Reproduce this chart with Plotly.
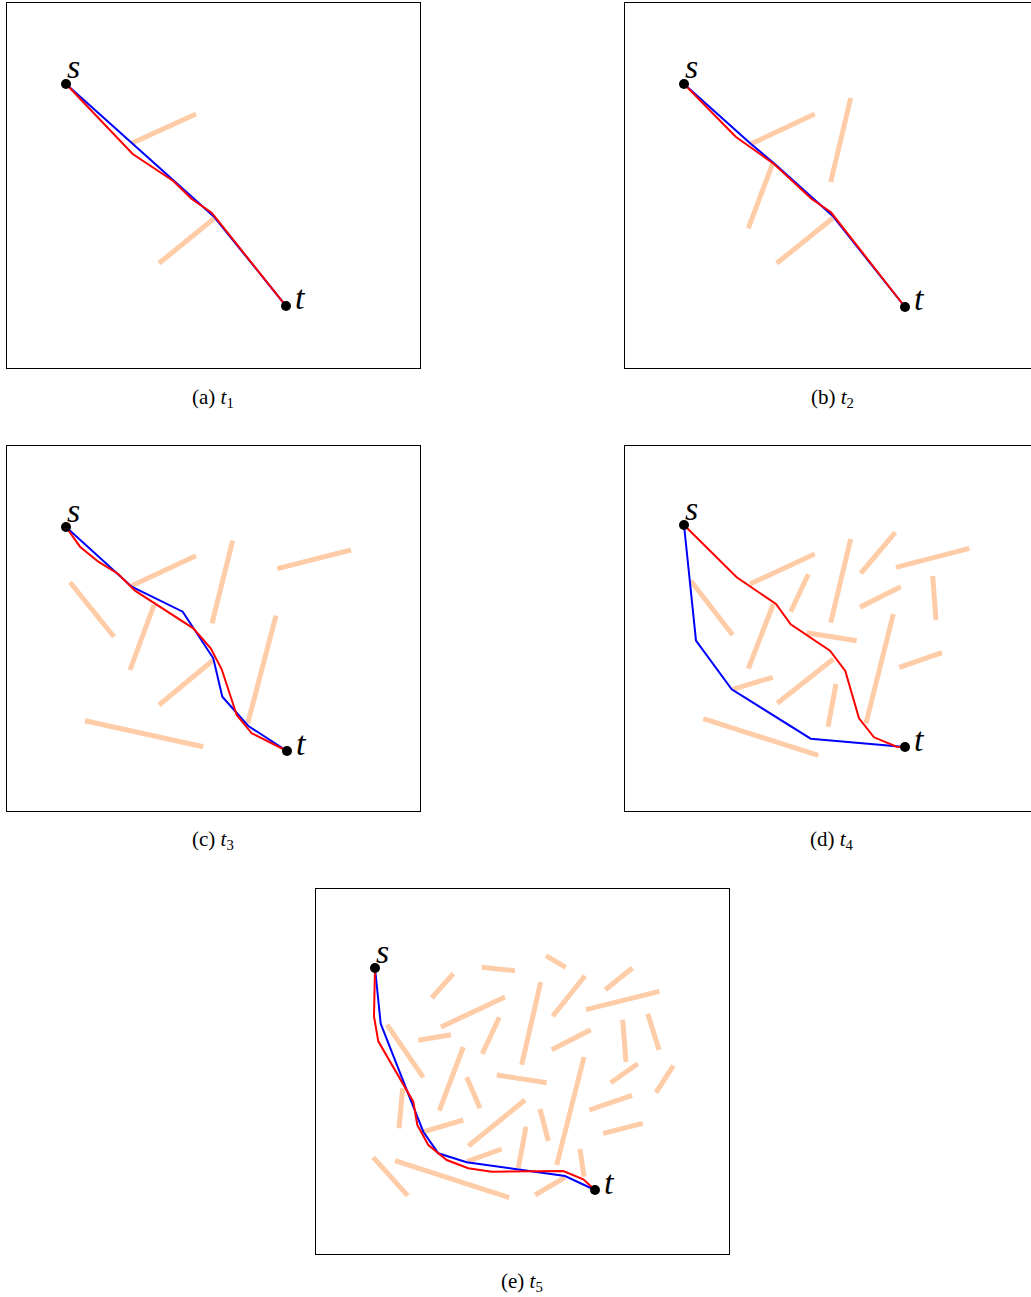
import plotly.graph_objects as go

# Canvas and panel geometry (pixel units)
W, H = 1031, 1297
PANEL_W, PANEL_H = 413, 365

# Panel boxes: (left, top, right, bottom) in canvas pixels
panel_boxes = {
    "a": (7, 3, 420, 368),
    "b": (625, 3, 1031, 368),
    "c": (7, 446, 420, 811),
    "d": (625, 446, 1031, 811),
    "e": (316, 889, 729, 1254),
}

# Captions: panel -> (label, subscript, center x, center y)
captions = {
    "a": ("(a)", "1", 213, 398),
    "b": ("(b)", "2", 832, 398),
    "c": ("(c)", "3", 213, 840),
    "d": ("(d)", "4", 832, 840),
    "e": ("(e)", "5", 522, 1282),
}

# Start / goal points (panel-local coordinates)
start_pts = {"a": (59, 81), "b": (59, 81), "c": (59, 81), "d": (59, 79), "e": (59, 79)}
goal_pts = {"a": (279, 303), "b": (280, 304), "c": (280, 305), "d": (280, 301), "e": (279, 301)}

# Obstacle segments (x0, y0, x1, y1), panel-local coordinates
obstacles_a = [
    (124.7, 140.3, 189, 111), (152, 260.3, 207.3, 215.3),
]
obstacles_b = [
    (126, 141, 189.7, 111), (151.7, 260.3, 207.7, 215.3),
    (123.3, 225.3, 147.7, 160.3), (205.7, 179, 225.7, 95),
]
obstacles_c = [
    (124.7, 139.7, 189, 109.7), (152, 259, 206.3, 214),
    (123, 224, 147, 159), (205, 177.3, 225.7, 94.7),
    (63, 136.3, 107, 190.7), (270.3, 122.7, 344, 104),
    (240.7, 277.3, 269, 169.7), (78, 274.7, 196.3, 300.7),
]
obstacles_d = [
    (125, 138, 189.7, 108), (152.3, 257.3, 208.3, 213),
    (123.3, 222.7, 148.3, 158), (205.7, 176.7, 225.7, 93),
    (65.7, 134.7, 107.7, 189), (271, 121.3, 344.3, 102.3),
    (241, 277.3, 268.3, 168), (78.3, 272.7, 193.3, 309.3),
    (165.7, 165.7, 183.3, 128.3), (235.7, 127.3, 270.3, 86.3),
    (235, 161.3, 275.7, 140.7), (307.7, 130, 311, 174),
    (181.7, 186.7, 231.7, 194.7), (274.3, 221.3, 317, 206.7),
    (107.7, 243.3, 147.7, 231.3), (203, 280.7, 211, 238),
]
obstacles_e = [
    (115.7, 109, 137.3, 84.7), (165.7, 78.3, 199, 81.7),
    (125, 138, 189, 108), (102.3, 151.3, 135, 145.7),
    (166.3, 164.7, 183.3, 128.3), (71, 135.7, 107.3, 188.3),
    (147.3, 158, 123.3, 221.7), (230, 66.7, 249.7, 78.3),
    (224.7, 93, 205.7, 175.7), (269, 86.7, 236.7, 127.3),
    (316.3, 79, 289.3, 100.7), (270, 120.7, 343.3, 102.3),
    (306.7, 130.7, 310, 173), (331.7, 124.7, 343, 160.7),
    (235.7, 160.7, 274.7, 140.7), (268, 168, 240.7, 276),
    (321.7, 174.7, 294.7, 193.7), (357.3, 176.7, 340, 203.7),
    (86.7, 199.3, 83, 239.3), (108, 242.7, 147.3, 231),
    (150.7, 188.3, 164, 219.3), (180.7, 186, 230.7, 193.7),
    (152.3, 257, 209, 211), (150.7, 272.7, 185.7, 260),
    (57.3, 268.3, 91.7, 306.7), (79, 271.7, 193.3, 308.7),
    (224, 220, 232.3, 252), (273.3, 221, 316, 206.3),
    (287.3, 244.3, 326.7, 234.3), (264, 260, 268, 287.7),
    (219, 306, 249, 288.3), (202.3, 279.3, 210, 237.7),
]

# Blue paths
blue_a_x = [59, 124.7, 207.3, 279]
blue_a_y = [81, 140.3, 214, 303]
blue_b_x = [59, 126, 149, 207.7, 280]
blue_b_y = [81, 141, 160.3, 213, 304]
blue_c_x = [59, 124.7, 175.7, 206.3, 215.3, 241.3, 280]
blue_c_y = [81, 140.7, 165.7, 212.3, 250.7, 280, 305]
blue_d_x = [59, 71, 106.7, 185.7, 280]
blue_d_y = [79, 194.7, 243.3, 292.7, 301]
blue_e_x = [59, 64.7, 97.3, 107.3, 122.3, 150.7, 249, 279]
blue_e_y = [79, 134.7, 217.7, 242.7, 264.3, 273.3, 287, 301]

# Red paths
red_a_x = [59, 125.7, 166.3, 184.7, 204.7, 279]
red_a_y = [81, 151, 178, 196, 209.7, 303]
red_b_x = [59, 110.7, 149, 186.7, 206, 280]
red_b_y = [81, 133.7, 161, 196, 209.3, 304]
red_c_x = [59, 73, 91.3, 111.3, 128, 186.3, 203.7, 214.7, 229.7, 244.7, 280]
red_c_y = [81, 100.7, 115.7, 128, 144.7, 182.3, 202.3, 223.3, 269, 287.3, 305]
red_d_x = [59, 111.7, 151, 165.7, 205, 220.3, 234, 249, 271.7, 280]
red_d_y = [79, 131.3, 158, 178.3, 204.7, 225, 272.3, 291.3, 300.7, 301]
red_e_x = [59, 58, 62.3, 79, 97.3, 101.3, 112.3, 130.7, 152.3, 175.7, 247.3, 267.3, 279]
red_e_y = [79, 127.3, 152.3, 181, 212.7, 236, 256, 271, 279.3, 282.7, 282, 290.3, 301]

panels = {
    "a": (obstacles_a, blue_a_x, blue_a_y, red_a_x, red_a_y),
    "b": (obstacles_b, blue_b_x, blue_b_y, red_b_x, red_b_y),
    "c": (obstacles_c, blue_c_x, blue_c_y, red_c_x, red_c_y),
    "d": (obstacles_d, blue_d_x, blue_d_y, red_d_x, red_d_y),
    "e": (obstacles_e, blue_e_x, blue_e_y, red_e_x, red_e_y),
}

OBST_COLOR = "rgb(255,204,168)"
SERIF = "Liberation Serif"

fig = go.Figure()
layout = dict(
    width=W, height=H,
    margin=dict(l=0, r=0, t=0, b=0),
    paper_bgcolor="white", plot_bgcolor="white",
    showlegend=False,
    annotations=[],
)

for i, key in enumerate(["a", "b", "c", "d", "e"]):
    n = "" if i == 0 else str(i + 1)
    xa, ya = "x" + n, "y" + n
    left, top, right, bottom = panel_boxes[key]
    obs, bx, by, rx, ry = panels[key]

    # obstacle segments joined with gaps
    ox, oy = [], []
    for x0, y0, x1, y1 in obs:
        ox += [x0, x1, None]
        oy += [y0, y1, None]
    fig.add_trace(go.Scatter(x=ox, y=oy, mode="lines", xaxis=xa, yaxis=ya,
                             line=dict(color=OBST_COLOR, width=5), hoverinfo="skip"))
    fig.add_trace(go.Scatter(x=bx, y=by, mode="lines", xaxis=xa, yaxis=ya,
                             line=dict(color="#0000ff", width=2), hoverinfo="skip"))
    fig.add_trace(go.Scatter(x=rx, y=ry, mode="lines", xaxis=xa, yaxis=ya,
                             line=dict(color="#ff0000", width=2), hoverinfo="skip"))
    sx, sy = start_pts[key]
    gx, gy = goal_pts[key]
    fig.add_trace(go.Scatter(x=[sx, gx], y=[sy, gy], mode="markers", xaxis=xa, yaxis=ya,
                             marker=dict(color="black", size=10), hoverinfo="skip"))

    full_box = right - left >= PANEL_W
    layout["xaxis" + n] = dict(
        domain=[left / W, right / W], range=[0, right - left],
        showline=True, mirror=True, linecolor="black", linewidth=1,
        showgrid=False, zeroline=False, showticklabels=False, ticks="",
        anchor=ya, fixedrange=True,
    )
    layout["yaxis" + n] = dict(
        domain=[1 - bottom / H, 1 - top / H], range=[bottom - top, 0],
        showline=True, mirror=full_box, linecolor="black", linewidth=1,
        showgrid=False, zeroline=False, showticklabels=False, ticks="",
        anchor=xa, fixedrange=True,
    )

    layout["annotations"].append(dict(
        x=sx + 7, y=sy - 17, xref=xa, yref=ya, text="<i>s</i>", showarrow=False,
        xanchor="center", yanchor="middle", font=dict(family=SERIF, size=34, color="black")))
    layout["annotations"].append(dict(
        x=gx + 14, y=gy - 8, xref=xa, yref=ya, text="<i>t</i>", showarrow=False,
        xanchor="center", yanchor="middle", font=dict(family=SERIF, size=34, color="black")))

    lab, sub, cx, cy = captions[key]
    layout["annotations"].append(dict(
        x=cx / W, y=1 - cy / H, xref="paper", yref="paper",
        text=f"{lab} <i>t</i><sub>{sub}</sub>", showarrow=False,
        xanchor="center", yanchor="middle", font=dict(family=SERIF, size=21, color="black")))

fig.update_layout(**layout)
fig.write_html("out.html")
